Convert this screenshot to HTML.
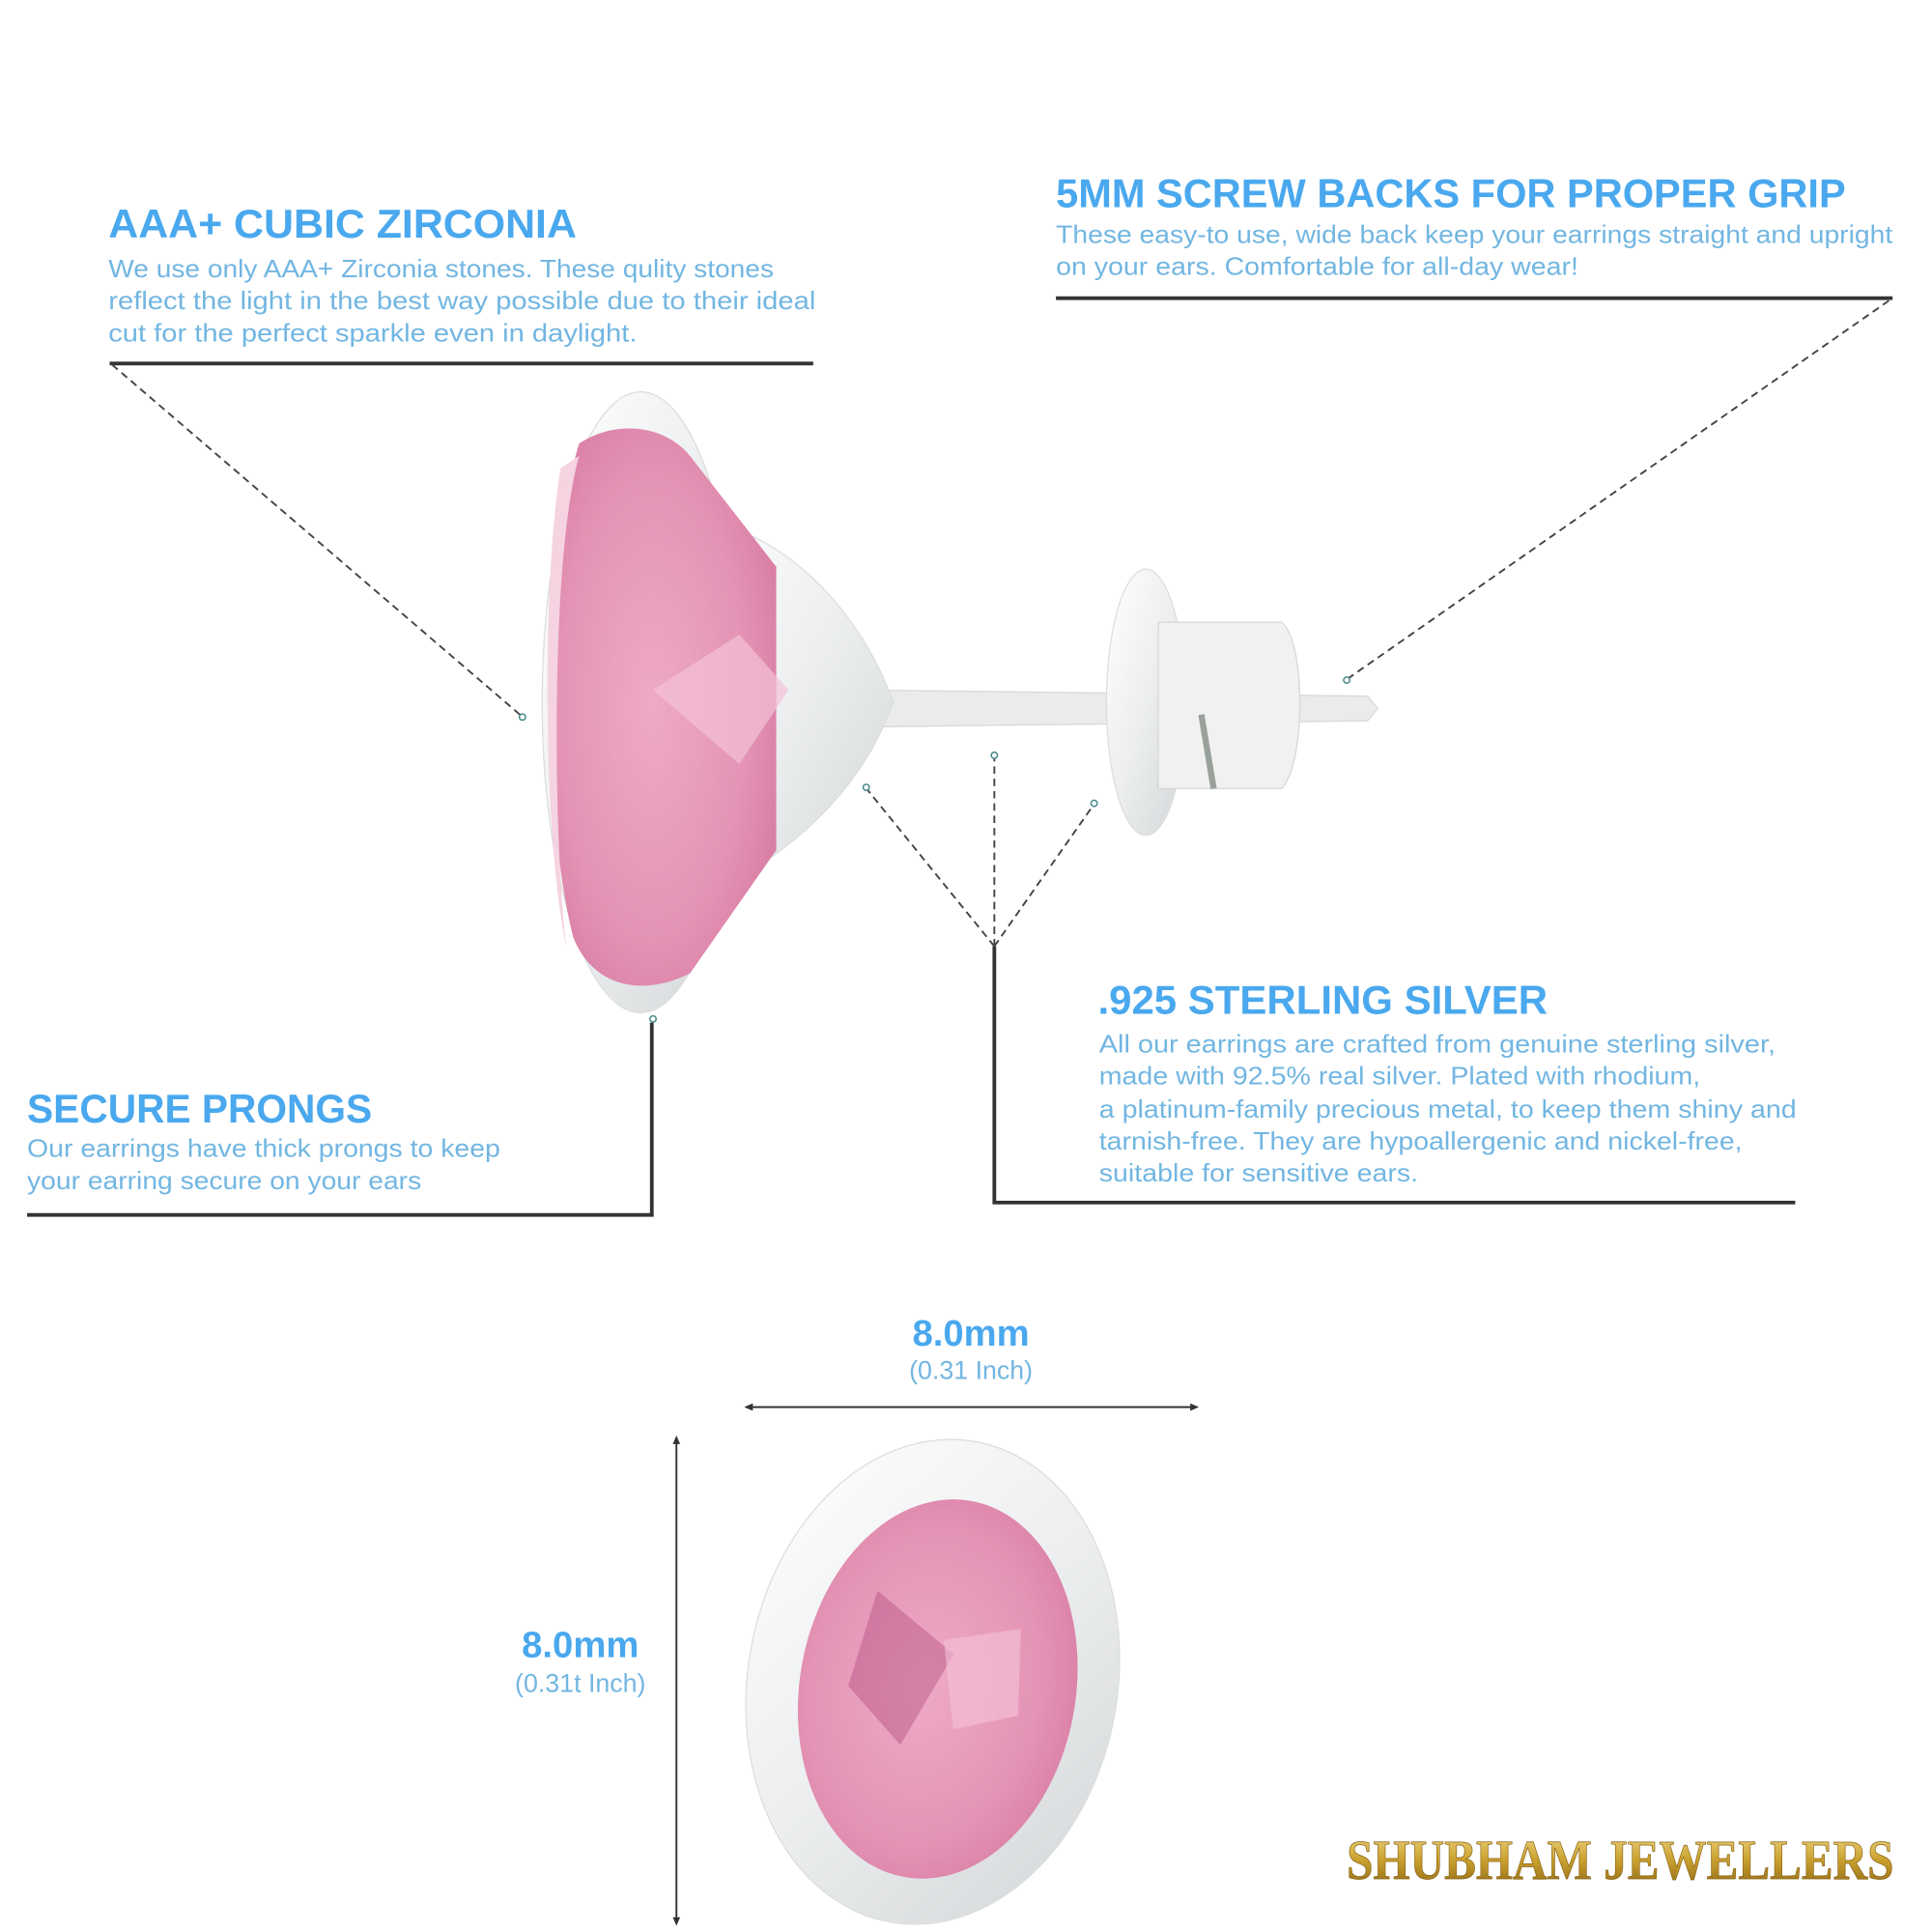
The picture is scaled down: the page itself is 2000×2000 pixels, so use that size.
<!DOCTYPE html>
<html><head><meta charset="utf-8"><style>
html,body{margin:0;padding:0;background:#fff;}
svg{display:block;}
.h{font-family:"Liberation Sans",sans-serif;font-weight:bold;fill:#4aa8ee;}
.b{font-family:"Liberation Sans",sans-serif;fill:#72b6e2;font-size:20px;}
</style></head><body>
<svg width="2000" height="2000" viewBox="0 0 1568 1568" xmlns="http://www.w3.org/2000/svg">
<defs>
<linearGradient id="gold" x1="0" y1="0" x2="0" y2="1">
<stop offset="0" stop-color="#f3dc8a"/><stop offset="0.5" stop-color="#c9a02e"/><stop offset="1" stop-color="#8a6414"/></linearGradient>
<radialGradient id="pink" cx="0.45" cy="0.5" r="0.6">
<stop offset="0" stop-color="#eeaac6"/><stop offset="0.7" stop-color="#e493b5"/><stop offset="1" stop-color="#d97ea5"/></radialGradient>
<linearGradient id="silver" x1="0" y1="0" x2="1" y2="1">
<stop offset="0" stop-color="#ffffff"/><stop offset="0.5" stop-color="#eceeef"/><stop offset="1" stop-color="#d3d6d8"/></linearGradient>
</defs>
<rect width="1568" height="1568" fill="#fff"/>

<path d="M700,560 L1110,565 L1118,575 L1110,585 L700,590 Z" fill="#eaece9" stroke="#d6d9d6"/>
<path d="M560,420 C640,430 700,500 725,570 C700,640 640,700 560,730 Z" fill="url(#silver)" stroke="#dcdede"/>
<ellipse cx="520" cy="570" rx="80" ry="252" fill="url(#silver)" stroke="#dcdede"/>
<path d="M470,360 C500,340 540,345 560,370 L630,460 L630,690 L560,790 C520,810 480,800 465,760 C440,660 440,460 470,360 Z" fill="url(#pink)"/>
<path d="M455,380 C440,470 440,680 460,770 C450,700 445,460 470,370 Z" fill="#f5d3e1"/>
<path d="M530,560 L600,515 L640,560 L600,620 Z" fill="#f3c2d6" opacity="0.7"/>
<ellipse cx="930" cy="570" rx="32" ry="108" fill="url(#silver)" stroke="#dcdede"/>
<path d="M940,505 L1040,505 C1060,520 1060,620 1040,640 L940,640 Z" fill="#f0f1f0" stroke="#d6d8d6"/>
<path d="M975,580 L985,640" stroke="#9aa19a" stroke-width="5"/>

<g transform="rotate(10 757 1365)">
<ellipse cx="757" cy="1365" rx="150" ry="198" fill="url(#silver)" stroke="#dcdede"/>
<ellipse cx="762" cy="1370" rx="112" ry="155" fill="url(#pink)"/>
<path d="M700,1300 L770,1340 L740,1420 L690,1380 Z" fill="#b0477a" opacity="0.4"/>
<path d="M760,1330 L820,1310 L830,1380 L780,1400 Z" fill="#f5c3d7" opacity="0.6"/>
</g>

<text class="h" x="88" y="193" font-size="33" textLength="380" lengthAdjust="spacingAndGlyphs">AAA+ CUBIC ZIRCONIA</text>
<text class="b" x="88" y="225" textLength="540" lengthAdjust="spacingAndGlyphs">We use only AAA+ Zirconia stones. These qulity stones</text>
<text class="b" x="88" y="251" textLength="574" lengthAdjust="spacingAndGlyphs">reflect the light in the best way possible due to their ideal</text>
<text class="b" x="88" y="277" textLength="429" lengthAdjust="spacingAndGlyphs">cut for the perfect sparkle even in daylight.</text>
<line x1="89" y1="295" x2="660" y2="295" stroke="#333" stroke-width="3"/>
<line x1="91" y1="296" x2="422" y2="580" stroke="#444" stroke-width="1.5" stroke-dasharray="6,4"/>
<circle cx="424" cy="582" r="2.5" fill="none" stroke="#4a8a8a" stroke-width="1.2"/>

<text class="h" x="857" y="168" font-size="33" textLength="641" lengthAdjust="spacingAndGlyphs">5MM SCREW BACKS FOR PROPER GRIP</text>
<text class="b" x="857" y="197" textLength="679" lengthAdjust="spacingAndGlyphs">These easy-to use, wide back keep your earrings straight and upright</text>
<text class="b" x="857" y="223" textLength="424" lengthAdjust="spacingAndGlyphs">on your ears. Comfortable for all-day wear!</text>
<line x1="857" y1="242" x2="1536" y2="242" stroke="#333" stroke-width="3"/>
<line x1="1533" y1="244" x2="1095" y2="550" stroke="#444" stroke-width="1.5" stroke-dasharray="6,4"/>
<circle cx="1093" cy="552" r="2.5" fill="none" stroke="#4a8a8a" stroke-width="1.2"/>

<text class="h" x="891" y="823" font-size="33" textLength="365" lengthAdjust="spacingAndGlyphs">.925 STERLING SILVER</text>
<text class="b" x="892" y="854" textLength="549" lengthAdjust="spacingAndGlyphs">All our earrings are crafted from genuine sterling silver,</text>
<text class="b" x="892" y="880" textLength="488" lengthAdjust="spacingAndGlyphs">made with 92.5% real silver. Plated with rhodium,</text>
<text class="b" x="892" y="907" textLength="566" lengthAdjust="spacingAndGlyphs">a platinum-family precious metal, to keep them shiny and</text>
<text class="b" x="892" y="933" textLength="522" lengthAdjust="spacingAndGlyphs">tarnish-free. They are hypoallergenic and nickel-free,</text>
<text class="b" x="892" y="959" textLength="259" lengthAdjust="spacingAndGlyphs">suitable for sensitive ears.</text>
<polyline points="807,768 807,976 1457,976" fill="none" stroke="#333" stroke-width="3"/>
<g stroke="#444" stroke-width="1.5" stroke-dasharray="6,4">
<line x1="807" y1="768" x2="704" y2="641"/>
<line x1="807" y1="768" x2="807" y2="615"/>
<line x1="807" y1="768" x2="887" y2="654"/>
</g>
<g fill="none" stroke="#4a8a8a" stroke-width="1.2">
<circle cx="703" cy="639" r="2.5"/><circle cx="807" cy="613" r="2.5"/><circle cx="888" cy="652" r="2.5"/>
</g>

<text class="h" x="22" y="911" font-size="33" textLength="280" lengthAdjust="spacingAndGlyphs">SECURE PRONGS</text>
<text class="b" x="22" y="939" textLength="384" lengthAdjust="spacingAndGlyphs">Our earrings have thick prongs to keep</text>
<text class="b" x="22" y="965" textLength="320" lengthAdjust="spacingAndGlyphs">your earring secure on your ears</text>
<polyline points="22,986 529,986 529,830" fill="none" stroke="#333" stroke-width="3"/>
<circle cx="530" cy="827" r="2.5" fill="none" stroke="#4a8a8a" stroke-width="1.2"/>

<text class="h" x="788" y="1092" font-size="30" text-anchor="middle">8.0mm</text>
<text class="b" x="788" y="1119" text-anchor="middle" style="font-size:21px">(0.31 Inch)</text>
<line x1="606" y1="1142" x2="971" y2="1142" stroke="#333" stroke-width="1.5"/>
<path d="M604,1142 l7,-3 v6 z M973,1142 l-7,-3 v6 z" fill="#333"/>

<text class="h" x="471" y="1345" font-size="30" text-anchor="middle">8.0mm</text>
<text class="b" x="471" y="1373" text-anchor="middle" style="font-size:21px">(0.31t Inch)</text>
<line x1="549" y1="1168" x2="549" y2="1560" stroke="#333" stroke-width="1.5"/>
<path d="M549,1165 l-3,7 h6 z M549,1563 l-3,-7 h6 z" fill="#333"/>

<text x="1315" y="1525" text-anchor="middle" font-family="Liberation Serif, serif" font-weight="bold" font-size="46" fill="url(#gold)" stroke="#8a6414" stroke-width="0.6" textLength="444" lengthAdjust="spacingAndGlyphs">SHUBHAM JEWELLERS</text>
</svg>
</body></html>
